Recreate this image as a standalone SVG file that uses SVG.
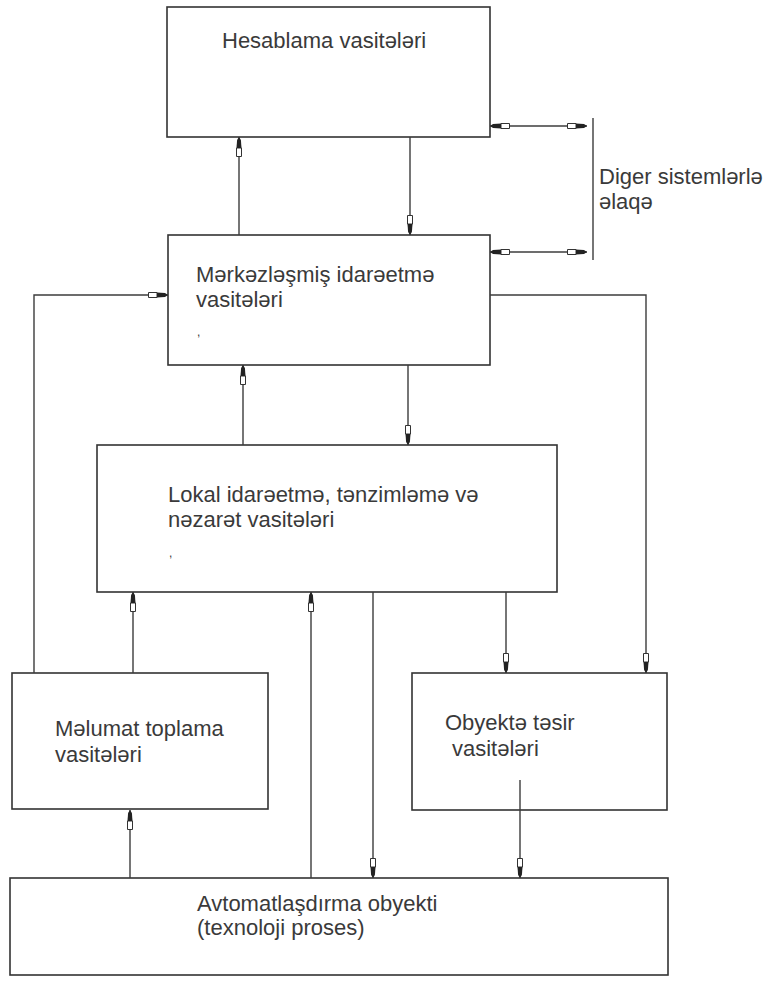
<svg xmlns="http://www.w3.org/2000/svg" width="765" height="982" viewBox="0 0 765 982">
<style>
.box{fill:#fff;stroke:#333;stroke-width:1.6}
.t{font-family:"Liberation Sans",Arial,sans-serif;font-size:22px;fill:#3a3a3a}
.c{fill:none;stroke:#3c3c3c;stroke-width:1.4}
.a{marker-end:url(#ah)}
.aa{marker-start:url(#ah);marker-end:url(#ah)}
</style>
<defs>
<marker id="ah" markerUnits="userSpaceOnUse" viewBox="0 0 20 7" markerWidth="20" markerHeight="7" refX="20" refY="3.5" orient="auto-start-reverse">
<path d="M0.5,1 L9,1 L9,6 L0.5,6 Z" fill="#fff" stroke="#333" stroke-width="1"/>
<path d="M9,1 L17,1.6 L20,3.5 L17,5.4 L9,6 Z" fill="#222"/>
</marker>
</defs>
<rect width="765" height="982" fill="#fff"/>
<g id="hesablama">
<rect class="box" x="167" y="7" width="323" height="130"/>
<text class="t" x="222" y="48">Hesablama vasitələri</text>
</g>
<g id="merkezlesmis">
<rect class="box" x="168" y="235" width="322" height="130"/>
<text class="t" x="196" y="282">Mərkəzləşmiş idarəetmə</text>
<text class="t" x="196" y="307">vasitələri</text>
<text class="t" x="197" y="336" style="font-size:12px">,</text>
</g>
<g id="diger">
<text class="t" x="599" y="184">Diger sistemlərlə</text>
<text class="t" x="599" y="209">əlaqə</text>
</g>
<g id="lokal">
<rect class="box" x="97" y="445" width="460" height="147"/>
<text class="t" x="168" y="502">Lokal idarəetmə, tənzimləmə və</text>
<text class="t" x="168" y="527">nəzarət vasitələri</text>
<text class="t" x="169" y="557" style="font-size:12px">,</text>
</g>
<g id="melumat">
<rect class="box" x="12" y="673" width="256" height="136"/>
<text class="t" x="55" y="736">Məlumat toplama</text>
<text class="t" x="55" y="762">vasitələri</text>
</g>
<g id="obyekte">
<rect class="box" x="412" y="673" width="255" height="137"/>
<text class="t" x="445" y="730">Obyektə təsir</text>
<text class="t" x="452" y="756">vasitələri</text>
</g>
<g id="avtomat">
<rect class="box" x="10" y="878" width="658" height="97"/>
<text class="t" x="197" y="911">Avtomatlaşdırma obyekti</text>
<text class="t" x="197" y="935">(texnoloji proses)</text>
</g>
<g id="connectors">
<path class="c a" d="M239,235 V137"/>
<path class="c a" d="M410,137 V235"/>
<path class="c aa" d="M490,126 H587"/>
<path class="c aa" d="M490,252 H587"/>
<path class="c" d="M593,118 V260"/>
<path class="c a" d="M34,673 V295 H168"/>
<path class="c a" d="M490,295 H646 V673"/>
<path class="c a" d="M243,445 V365"/>
<path class="c a" d="M408,365 V445"/>
<path class="c a" d="M133,673 V592"/>
<path class="c a" d="M311,878 V592"/>
<path class="c a" d="M373,592 V878"/>
<path class="c a" d="M506,592 V673"/>
<path class="c a" d="M130,878 V810"/>
<path class="c a" d="M520,780 V878"/>
</g>
</svg>
